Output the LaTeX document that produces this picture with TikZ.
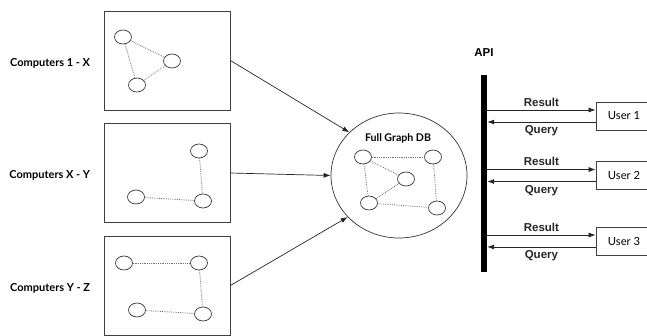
\documentclass[tikz,border=0pt]{standalone}
\usepackage{fontspec}
\setmainfont{Lato}
\newfontfamily\arialfont{Liberation Sans}
\usetikzlibrary{arrows.meta, shapes, positioning}

\begin{document}
\begin{tikzpicture}[
        x=1pt, y=-1pt,
        node distance=112.5pt,
        machine/.style={rectangle, draw=black!75, line width=0.8pt, minimum width=126pt, minimum height=99pt, inner sep=0pt},
        host/.style={ellipse, draw=black!80, line width=0.7pt, minimum width=17pt, minimum height=14pt, inner sep=0pt},
        link/.style={densely dotted, black!55, line width=0.8pt},
        group/.style={font=\fontsize{11}{13}\selectfont\bfseries},
        arrow/.style={line width=0.7pt, black!85, -{Latex[length=7pt, width=5pt]}},
        user/.style={rectangle, draw=black!75, line width=0.8pt, minimum width=56pt, minimum height=28pt, font=\fontsize{11.2}{13}\selectfont},
        api/.style={font=\arialfont\fontsize{11.5}{13}\selectfont\bfseries}
    ]
    \useasboundingbox (0,0) rectangle (647,335);

    % computer groups
    \node[machine] (box1) at (167,60.5) {};
    \node[machine, below of=box1] (box2) {};
    \node[machine, below of=box2] (box3) {};
    \node[group, left=10pt of box1, yshift=-2.5pt] (lbl1) {Computers 1 - X};
    \node[group, left=10pt of box2, yshift=-2.5pt] (lbl2) {Computers X - Y};
    \node[group, left=10pt of box3, yshift=-2.5pt] (lbl3) {Computers Y - Z};

    \node[host] (c1a) at (123,37) {};
    \node[host] (c1b) at (172,61) {};
    \node[host] (c1c) at (137,85) {};
    \draw[link] (c1a) -- (c1b);
    \draw[link] (c1a) -- (c1c);
    \draw[link] (c1b) -- (c1c);

    \node[host] (c2a) at (199,151) {};
    \node[host] (c2b) at (136,197) {};
    \node[host] (c2c) at (203,201) {};
    \draw[link] (c2a) -- (c2c);
    \draw[link] (c2b) -- (c2c);

    \node[host] (c3a) at (124,263) {};
    \node[host] (c3b) at (199,263) {};
    \node[host] (c3c) at (137,310) {};
    \node[host] (c3d) at (203,314) {};
    \draw[link] (c3a) -- (c3b);
    \draw[link] (c3b) -- (c3d);
    \draw[link] (c3c) -- (c3d);

    % full graph
    \node[ellipse, draw=black!80, line width=0.7pt, minimum width=136pt, minimum height=125pt] (db) at (399,175.5) {};
    \node[group, font=\fontsize{10.6}{13}\selectfont\bfseries] (dbtitle) at (398,138) {Full Graph DB};
    \node[host] (d1) at (363,157) {};
    \node[host] (d2) at (433,157) {};
    \node[host] (d3) at (406,179) {};
    \node[host] (d4) at (369,203) {};
    \node[host] (d5) at (437,208) {};
    \draw[link] (d1) -- (d2);
    \draw[link] (d1) -- (d3);
    \draw[link] (d1) -- (d4);
    \draw[link] (d4) -- (d3);
    \draw[link] (d4) -- (d5);
    \draw[link] (d2) -- (d5);

    \draw[arrow] (box1.east) -- (db.139);
    \draw[arrow] (box2.east) -- (db.west);
    \draw[arrow] (box3.east) -- (db.219);

    % api and users
    \node[fill=black, minimum width=6pt, minimum height=197pt, inner sep=0pt] (api) at (484,173.5) {};
    \node[api, above=15pt of api] (apilbl) {API};

    \node[user] (user1) at (624,116) {User 1};
    \node[user] (user2) at (624,175.5) {User 2};
    \node[user] (user3) at (624,241) {User 3};

    \coordinate (r1) at ([yshift=6pt]user1.west);
    \coordinate (q1) at ([yshift=-6pt]user1.west);
    \coordinate (r2) at ([yshift=6pt]user2.west);
    \coordinate (q2) at ([yshift=-6pt]user2.west);
    \coordinate (r3) at ([yshift=6pt]user3.west);
    \coordinate (q3) at ([yshift=-6pt]user3.west);

    \draw[arrow] (api.east |- r1) -- node[api, above] {Result} (r1);
    \draw[arrow] (q1) -- node[api, below] {Query} (api.east |- q1);
    \draw[arrow] (api.east |- r2) -- node[api, above] {Result} (r2);
    \draw[arrow] (q2) -- node[api, below] {Query} (api.east |- q2);
    \draw[arrow] (api.east |- r3) -- node[api, above] {Result} (r3);
    \draw[arrow] (q3) -- node[api, below] {Query} (api.east |- q3);
\end{tikzpicture}
\end{document}
